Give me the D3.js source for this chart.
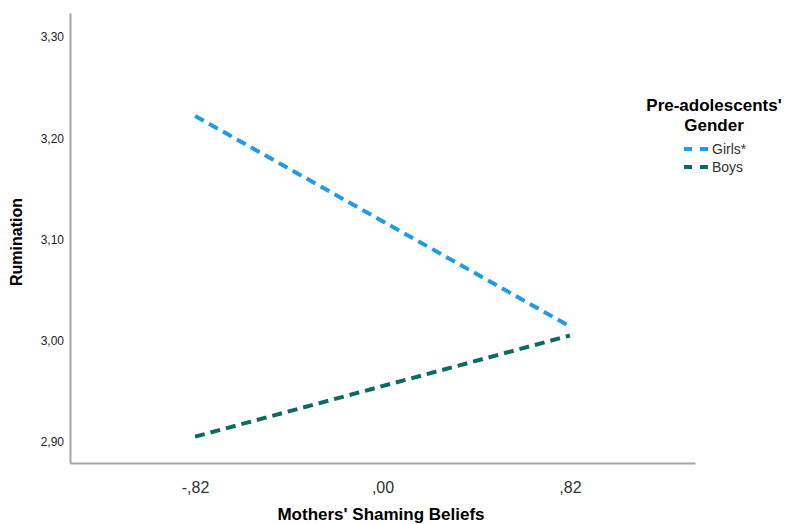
<!DOCTYPE html>
<html>
<head>
<meta charset="utf-8">
<script src="https://cdn.jsdelivr.net/npm/d3@7"></script>
<style>
  body { margin: 0; background: #fff; }
  text { font-family: Arial, "Liberation Sans", sans-serif; }
</style>
</head>
<body>
<script>
(function() {
  'use strict';

  var width = 786, height = 524,
      margin = {left: 70, right: 91, top: 13, bottom: 61};

  // data
  var xTicks = [-0.82, 0, 0.82];
  var xLabels = ["-,82", ",00", ",82"];
  var yTicks = [2.9, 3.0, 3.1, 3.2, 3.3];
  var yLabels = ["2,90", "3,00", "3,10", "3,20", "3,30"];
  var seriesNames = ["Girls*", "Boys"];
  var girls = [3.222, 3.014];
  var boys = [2.905, 3.005];
  var colors = ["#1e9be9", "#0b6a62"];

  var svg = d3.select("body").append("svg")
      .attr("width", width)
      .attr("height", height);

  var x = d3.scaleLinear()
      .domain([-1.367, 1.367])
      .range([margin.left, width - margin.right]);

  var y = d3.scaleLinear()
      .domain([2.879, 3.3237])
      .range([height - margin.bottom, margin.top]);

  // axes
  var xAxis = d3.axisBottom(x).tickValues(xTicks).tickSize(0)
      .tickFormat(function(d, i) { return xLabels[i]; });
  var yAxis = d3.axisLeft(y).tickValues(yTicks).tickSize(0)
      .tickFormat(function(d, i) { return yLabels[i]; });

  var gx = svg.append("g")
      .attr("transform", "translate(0," + (height - margin.bottom) + ")")
      .call(xAxis);
  gx.select(".domain").attr("stroke", "#a6a6a6").attr("stroke-width", 2);
  gx.selectAll("text")
    .attr("dy", 0).attr("y", 30)
    .attr("font-size", 16).attr("fill", "#333");

  var gy = svg.append("g")
      .attr("transform", "translate(" + margin.left + ",0)")
      .call(yAxis);
  gy.select(".domain").attr("stroke", "#a6a6a6").attr("stroke-width", 2);
  gy.selectAll("text")
    .attr("x", -6)
    .attr("font-size", 12).attr("fill", "#222");

  // lines
  var series = [girls, boys];
  var line = d3.line()
      .x(function(d, i) { return x(xTicks[i * 2]); })
      .y(function(d) { return y(d); });

  svg.selectAll("path.series").data(series).enter()
     .append("path")
     .attr("class", "series")
     .attr("d", line)
     .attr("fill", "none")
     .attr("stroke", function(d, i) { return colors[i]; })
     .attr("stroke-width", 4)
     .attr("stroke-dasharray", "10,6");

  // axis titles
  svg.append("text")
     .attr("x", 381).attr("y", 520)
     .attr("text-anchor", "middle")
     .attr("font-size", 17).attr("font-weight", "bold")
     .text("Mothers' Shaming Beliefs");

  svg.append("text")
     .attr("transform", "translate(22,242) rotate(-90)")
     .attr("text-anchor", "middle")
     .attr("font-size", 16).attr("font-weight", "bold")
     .text("Rumination");

  // legend
  var lg = svg.append("g");
  lg.append("text")
    .attr("x", 714).attr("y", 111)
    .attr("text-anchor", "middle")
    .attr("font-size", 17).attr("font-weight", "bold")
    .text("Pre-adolescents'");
  lg.append("text")
    .attr("x", 714).attr("y", 131)
    .attr("text-anchor", "middle")
    .attr("font-size", 17).attr("font-weight", "bold")
    .text("Gender");

  var items = lg.selectAll("g.item").data(seriesNames).enter()
      .append("g").attr("class", "item")
      .attr("transform", function(d, i) { return "translate(0," + (149 + i * 18) + ")"; });
  items.append("line")
     .attr("x1", 684).attr("x2", 710)
     .attr("stroke", function(d, i) { return colors[i]; })
     .attr("stroke-width", 4)
     .attr("stroke-dasharray", "8,8");
  items.append("text")
     .attr("x", 712).attr("y", 5)
     .attr("font-size", 14).attr("fill", "#333")
     .text(function(d) { return d; });
})();
</script>
</body>
</html>
